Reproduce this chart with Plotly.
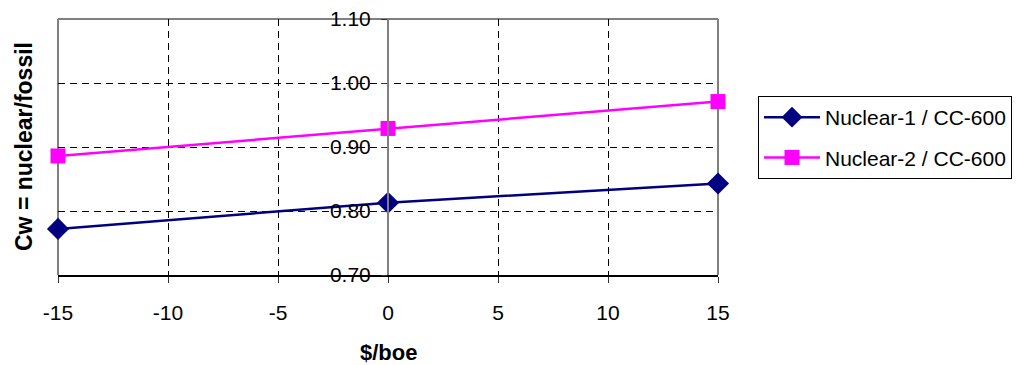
import plotly.graph_objects as go

x_values = [-15, 0, 15]
nuclear1 = [0.772, 0.813, 0.843]
nuclear2 = [0.886, 0.929, 0.971]
series_names = ["Nuclear-1 / CC-600", "Nuclear-2 / CC-600"]
x_ticks = [-15, -10, -5, 0, 5, 10, 15]
y_ticks = [0.70, 0.80, 0.90, 1.00, 1.10]

FONT = "Liberation Sans, Arial, sans-serif"

fig = go.Figure()
fig.add_trace(go.Scatter(
    x=x_values, y=nuclear1, name=series_names[0], mode="lines+markers",
    line=dict(color="#000080", width=2.5),
    marker=dict(symbol="diamond", size=17, color="#000080"),
    legendgroup="a", cliponaxis=False))
fig.add_trace(go.Scatter(
    x=x_values, y=nuclear2, name=series_names[1], mode="lines+markers",
    line=dict(color="#FF00FF", width=2.5),
    marker=dict(symbol="square", size=15, color="#FF00FF"),
    legendgroup="b", cliponaxis=False))

grid = dict(showgrid=True, gridcolor="#000000", gridwidth=1, griddash="7px,5px")

fig.update_layout(
    width=1016, height=365,
    margin=dict(l=58, r=298, t=19, b=90, autoexpand=False),
    paper_bgcolor="white", plot_bgcolor="white",
    font=dict(family=FONT, size=21, color="black"),
    showlegend=True,
    legend=dict(
        x=(758 - 58) / 660, y=(275 - 96) / 256, xanchor="left", yanchor="top",
        bordercolor="#000000", borderwidth=1, bgcolor="white",
        font=dict(family=FONT, size=21, color="black"),
        traceorder="grouped", tracegroupgap=10, itemwidth=56,
    ),
    xaxis=dict(
        range=[-15, 15], tickvals=x_ticks, ticktext=[str(v) for v in x_ticks],
        zeroline=False, showline=True, linecolor="#000000", linewidth=2,
        ticks="outside", ticklen=6, tickcolor="#333333", tickwidth=1,
        ticklabelstandoff=12, **grid,
    ),
    yaxis=dict(
        range=[0.70, 1.10], tickvals=y_ticks, ticktext=[f"{v:.2f}" for v in y_ticks],
        anchor="free", position=0.5, zeroline=False,
        showline=True, linecolor="#808080", linewidth=2,
        ticks="outside", ticklen=6, tickcolor="#333333", tickwidth=1,
        ticklabelstandoff=6, **grid,
    ),
)

# frame: left, top, right edges
for (x0, y0, x1, y1) in [(0, 0, 0, 1), (0, 1, 1, 1), (1, 0, 1, 1)]:
    fig.add_shape(type="line", xref="paper", yref="paper", x0=x0, y0=y0, x1=x1, y1=y1,
                  line=dict(color="#808080", width=2), layer="below")

fig.add_annotation(text="<b>Cw = nuclear/fossil</b>", xref="paper", yref="paper",
                   x=(24 - 58) / 660, y=0.5, textangle=-90, showarrow=False,
                   xanchor="center", yanchor="middle",
                   font=dict(family=FONT, size=23, color="black"))
fig.add_annotation(text="<b>$/boe</b>", xref="paper", yref="paper",
                   x=0.5, y=(275 - 352) / 256, showarrow=False,
                   xanchor="center", yanchor="middle",
                   font=dict(family=FONT, size=22, color="black"))

fig.write_html("out.html")
